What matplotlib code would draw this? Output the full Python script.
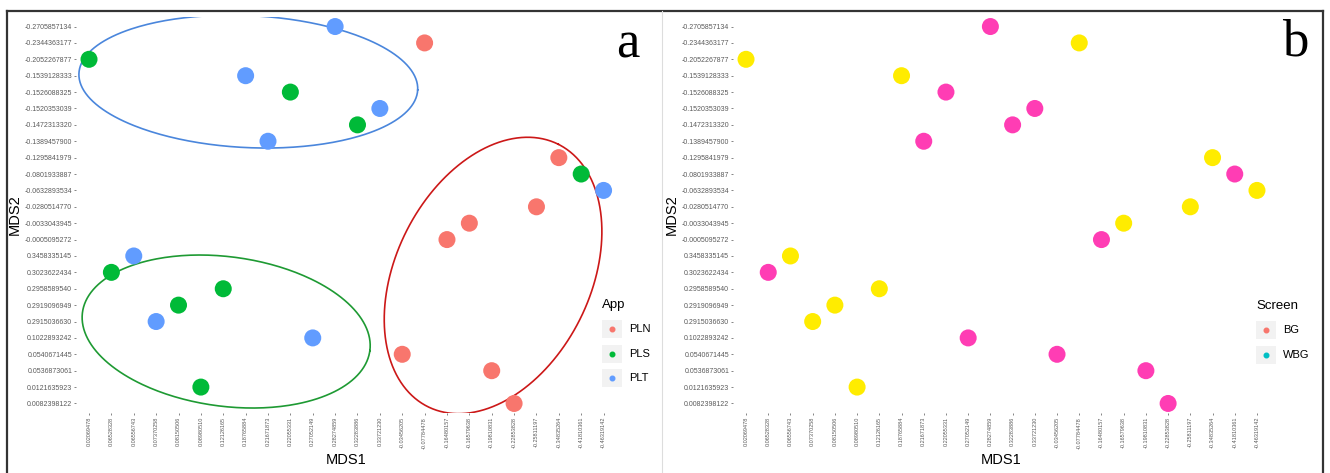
import numpy as np
import matplotlib
matplotlib.use('Agg')
import matplotlib.pyplot as plt
from matplotlib.patches import Rectangle
from matplotlib.lines import Line2D

plt.rcParams['font.family'] = ['Liberation Sans', 'DejaVu Sans']

# category labels of the two MDS axes (ggplot treated them as discrete)
mds1_labels = ['0.02069478', '0.06528328', '0.06556743', '0.07370258', '0.08150506',
               '0.08980510', '0.12126165', '0.18765884', '0.21671873', '0.22055331',
               '0.27052149', '0.28274859', '0.32283886', '0.33721230', '-0.03456205',
               '-0.07784478', '-0.16480157', '-0.16579638', '-0.19810831', '-0.22853828',
               '-0.25811197', '-0.34835264', '-0.41810361', '-0.46319142']
# listed top to bottom
mds2_labels = ['-0.2705857134', '-0.2344363177', '-0.2052267877', '-0.1539128333',
               '-0.1526088325', '-0.1520353039', '-0.1472313320', '-0.1389457900',
               '-0.1295841979', '-0.0801933887', '-0.0632893534', '-0.0280514770',
               '-0.0033043945', '-0.0005095272', '0.3458335145', '0.3023622434',
               '0.2958589540', '0.2919096949', '0.2915036630', '0.1022893242',
               '0.0540671445', '0.0536873061', '0.0121635923', '0.0082398122']

# one point per MDS1 category (in order), its MDS2 category (row from top)
mds2_row = [2, 15, 14, 18, 17, 22, 16, 3, 7, 4, 19, 0, 6, 5, 20, 1, 13, 12, 21, 23, 11, 8, 9, 10]
app = ['PLS', 'PLS', 'PLT', 'PLT', 'PLS', 'PLS', 'PLS', 'PLT', 'PLT', 'PLS', 'PLT', 'PLT',
       'PLS', 'PLT', 'PLN', 'PLN', 'PLN', 'PLN', 'PLN', 'PLN', 'PLN', 'PLN', 'PLS', 'PLT']
screen = ['WBG', 'BG', 'WBG', 'WBG', 'WBG', 'WBG', 'WBG', 'WBG', 'BG', 'BG', 'BG', 'BG',
          'BG', 'BG', 'BG', 'WBG', 'BG', 'WBG', 'BG', 'BG', 'WBG', 'WBG', 'BG', 'WBG']

app_levels = ['PLN', 'PLS', 'PLT']
app_colors = {'PLN': '#F8766D', 'PLS': '#00BA38', 'PLT': '#619CFF'}
screen_levels = ['BG', 'WBG']
screen_point_colors = {'BG': '#FF3DB4', 'WBG': '#FFEC00'}
screen_key_colors = {'BG': '#F8766D', 'WBG': '#00BFC4'}

# cluster ellipses: centre (MDS1 pos, MDS2 row), semi-axes in MDS1 units, angle on screen
ell_x = [7.12, 6.13, 18.06]
ell_row = [3.36, 18.61, 15.19]
ell_a = [7.58, 6.48, 6.55]
ell_b = [2.95, 3.34, 4.35]
ell_angle = [-2.8, -7.6, 63.6]
ell_colors = ['#4A86DC', '#1E9A33', '#CC1818']

W, H = 1330, 473
fig = plt.figure(figsize=(W / 100, H / 100), dpi=100)
n = len(mds1_labels)
xpos = np.arange(n)
ypos = (n - 1) - np.array(mds2_row)


def make_panel(left, right, top=16.7, bottom=413.3):
    ax = fig.add_axes([left / W, (H - bottom) / H, (right - left) / W, (bottom - top) / H])
    ax.set_xlim(-0.6, n - 0.4)
    ax.set_ylim(-0.6, n - 0.4)
    for s in ax.spines.values():
        s.set_visible(False)
    ax.set_xticks(xpos)
    ax.set_xticklabels(mds1_labels, rotation=90, fontsize=4.0, color='#5A5A5A')
    ax.set_yticks(np.arange(n))
    ax.set_yticklabels(mds2_labels[::-1], fontsize=5.0, color='#5A5A5A')
    ax.tick_params(length=1.5, width=0.5, color='#555555', pad=1)
    ax.set_xlabel('MDS1', fontsize=10.5, labelpad=3)
    ax.set_ylabel('MDS2', fontsize=10.5, labelpad=2)
    return ax


def legend(x, y, title, levels, colors):
    fig.text(x / W, 1 - y / H, title, fontsize=9.5, va='center', ha='left')
    for i, lev in enumerate(levels):
        cy = y + 24 + i * 24.5
        fig.add_artist(Rectangle(((x) / W, 1 - (cy + 9) / H), 20 / W, 18 / H,
                                 transform=fig.transFigure, facecolor='#F2F2F2',
                                 edgecolor='none'))
        fig.add_artist(Line2D([(x + 10) / W], [1 - cy / H], marker='o', markersize=3.3,
                              color=colors[lev], transform=fig.transFigure))
        fig.text((x + 27) / W, 1 - cy / H, lev, fontsize=8, va='center', ha='left')


# panel a: coloured by App, with cluster ellipses
ax1 = make_panel(75.6, 617.0)
ax1.scatter(xpos, ypos, s=150, c=[app_colors[a] for a in app], edgecolors='none', zorder=3)
bb = ax1.get_position()
sx = bb.width * W / (n - 0.4 + 0.6)
sy = bb.height * H / (n - 0.4 + 0.6)
t = np.linspace(0, 2 * np.pi, 300)
for cx, cr, a, b, ang, col in zip(ell_x, ell_row, ell_a, ell_b, ell_angle, ell_colors):
    th = np.deg2rad(ang)
    dx = a * np.cos(t) * np.cos(th) - b * np.sin(t) * np.sin(th)
    dy = (a * np.cos(t) * np.sin(th) + b * np.sin(t) * np.cos(th)) * sx / sy
    ax1.plot(cx + dx, (n - 1 - cr) + dy, color=col, lw=1.2, zorder=2)
fig.text(628 / W, 1 - 44 / H, 'a', fontsize=38, family='Liberation Serif', va='center', ha='center')
legend(602, 305, 'App', app_levels, app_colors)

# panel b: coloured by Screen
ax2 = make_panel(732.7, 1270.3)
ax2.scatter(xpos, ypos, s=150, c=[screen_point_colors[s] for s in screen],
            edgecolors='none', zorder=3)
fig.text(1295 / W, 1 - 42 / H, 'b', fontsize=38, family='Liberation Serif', va='center', ha='center')
legend(1256, 306, 'Screen', screen_levels, screen_key_colors)

# frame around the figure panels
frame = dict(transform=fig.transFigure, color='#333333', lw=1.6)
fig.add_artist(Line2D([7 / W, 1323 / W], [1 - 11 / H, 1 - 11 / H], **frame))
fig.add_artist(Line2D([7 / W, 7 / W], [0, 1 - 11 / H], **frame))
fig.add_artist(Line2D([1323 / W, 1323 / W], [0, 1 - 11 / H], **frame))
fig.add_artist(Line2D([662 / W, 662 / W], [0, 1 - 11 / H], transform=fig.transFigure,
                      color='#DDDDDD', lw=0.8))

fig.savefig('out.png', dpi=100)
